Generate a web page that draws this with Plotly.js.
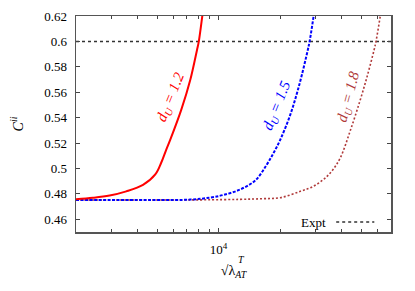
<!DOCTYPE html>
<html>
<head>
<meta charset="utf-8">
<script src="https://cdn.plot.ly/plotly-3.0.1.min.js"></script>
<style>html,body{margin:0;padding:0;background:#fff;}#chart{width:415px;height:291px;}</style>
</head>
<body>
<div id="chart"></div>
<script>
// d_U = 1.2 (red, solid)
const xRed = [2000, 2423, 2922, 3528, 4260, 4894, 5237, 5541, 5797, 6565, 7266, 7838, 8000, 8320, 8510];
const yRed = [0.4757, 0.4769, 0.4787, 0.4820, 0.4871, 0.4953, 0.5047, 0.5149, 0.5227, 0.5463, 0.5698, 0.5933, 0.6000, 0.6200, 0.6325];
// d_U = 1.5 (blue, dashed)
const xBlue = [2000, 4626, 7266, 9106, 10580, 12777, 15130, 17130, 18540, 20070, 22470, 24870, 27370, 27930, 29230, 29960];
const yBlue = [0.4752, 0.4752, 0.4755, 0.4771, 0.4792, 0.4835, 0.4906, 0.5024, 0.5118, 0.5227, 0.5424, 0.5659, 0.5933, 0.6000, 0.6200, 0.6325];
// d_U = 1.8 (dark red, dotted)
const xDark = [2000, 8135, 12777, 16380, 20070, 25160, 28800, 32710, 36090, 39510, 44220, 49500, 53570, 57840, 59100, 62040, 63820];
const yDark = [0.4752, 0.4753, 0.4757, 0.4762, 0.4770, 0.4820, 0.4855, 0.4914, 0.4984, 0.5084, 0.5298, 0.5541, 0.5729, 0.5933, 0.6000, 0.6200, 0.6325];
// experiment
const xExpt = [2000, 70000];
const yExpt = [0.6, 0.6];

const xMajorTicks = [10000];
const xMajorText = ["10<sup>4</sup>"];
const xMinorTicks = [3000, 4000, 5000, 6000, 7000, 8000, 9000, 20000, 30000, 40000, 50000, 60000];
const yTickVals = [0.46, 0.48, 0.50, 0.52, 0.54, 0.56, 0.58, 0.60, 0.62];
const yTickText = ["0.46", "0.48", "0.5", "0.52", "0.54", "0.56", "0.58", "0.6", "0.62"];

const serif = "'Liberation Serif', 'Times New Roman', 'DejaVu Serif', serif";

const traces = [
  {x: xExpt, y: yExpt, type: "scatter", mode: "lines", name: "Expt",
   line: {color: "#333333", width: 1.5, dash: "dot"}, showlegend: false},
  {x: xDark, y: yDark, type: "scatter", mode: "lines", name: "d_U = 1.8",
   line: {color: "#b03a3a", width: 1.6, dash: "2px,2px", shape: "spline", smoothing: 1}, showlegend: false},
  {x: xBlue, y: yBlue, type: "scatter", mode: "lines", name: "d_U = 1.5",
   line: {color: "#0000ff", width: 2, dash: "3px,1.5px", shape: "spline", smoothing: 1}, showlegend: false},
  {x: xRed, y: yRed, type: "scatter", mode: "lines", name: "d_U = 1.2",
   line: {color: "#ff0000", width: 2, shape: "spline", smoothing: 1}, showlegend: false}
];

const layout = {
  width: 415, height: 291,
  margin: {l: 76, r: 24, t: 16, b: 59},
  paper_bgcolor: "#ffffff", plot_bgcolor: "#ffffff",
  font: {family: serif, size: 13, color: "#000"},
  showlegend: false,
  xaxis: {
    type: "log",
    range: [Math.log10(2000), Math.log10(70000)],
    tickmode: "array", tickvals: xMajorTicks, ticktext: xMajorText,
    ticks: "inside", ticklen: 4, tickcolor: "#444", tickwidth: 1,
    minor: {tickmode: "array", tickvals: xMinorTicks, ticks: "inside", ticklen: 3, tickcolor: "#444", tickwidth: 1, showgrid: false},
    showline: true, linecolor: "#555", linewidth: 1.5, mirror: "ticks",
    showgrid: false, zeroline: false,
    ticklabelstandoff: 5,
    tickfont: {family: serif, size: 13, color: "#000"},
    title: {text: "√λ<sub><i>AT</i></sub>", font: {family: serif, size: 14}, standoff: 9}
  },
  yaxis: {
    range: [0.45, 0.62],
    tickmode: "array", tickvals: yTickVals, ticktext: yTickText,
    ticks: "inside", ticklen: 4, tickcolor: "#444", tickwidth: 1,
    showline: true, linecolor: "#555", linewidth: 1.5, mirror: "ticks",
    showgrid: false, zeroline: false,
    ticklabelstandoff: 5,
    tickfont: {family: serif, size: 13, color: "#000"},
    title: {text: "<i>C</i><sup><i>ii</i></sup>", font: {family: serif, size: 14}, standoff: 17}
  },
  annotations: [
    {xref: "paper", yref: "paper", x: 0.302, y: 0.625, xanchor: "center", yanchor: "middle",
     text: "<i>d<sub>U</sub> = 1.2</i>", showarrow: false,
     textangle: -68, font: {family: serif, size: 15, color: "#ff0000"}},
    {xref: "paper", yref: "paper", x: 0.638, y: 0.585, xanchor: "center", yanchor: "middle",
     text: "<i>d<sub>U</sub> = 1.5</i>", showarrow: false,
     textangle: -68, font: {family: serif, size: 15, color: "#0000ff"}},
    {xref: "paper", yref: "paper", x: 0.866, y: 0.625, xanchor: "center", yanchor: "middle",
     text: "<i>d<sub>U</sub> = 1.8</i>", showarrow: false,
     textangle: -75, font: {family: serif, size: 15, color: "#b03a3a"}},
    {xref: "paper", yref: "paper", x: 0.801, y: 0.046, xanchor: "right", yanchor: "middle", text: "Expt", showarrow: false,
     font: {family: serif, size: 13, color: "#000"}},
    {xref: "paper", yref: "paper", x: 0.524, y: -0.125, xanchor: "center", yanchor: "middle", text: "<i>T</i>", showarrow: false,
     font: {family: serif, size: 10, color: "#000"}}
  ],
  shapes: [
    {type: "line", xref: "paper", yref: "paper", x0: 0.826, x1: 0.947, y0: 0.046, y1: 0.046,
     line: {color: "#333333", width: 1.5, dash: "dot"}}
  ]
};

Plotly.newPlot("chart", traces, layout, {displayModeBar: false, staticPlot: true});
</script>
</body>
</html>
